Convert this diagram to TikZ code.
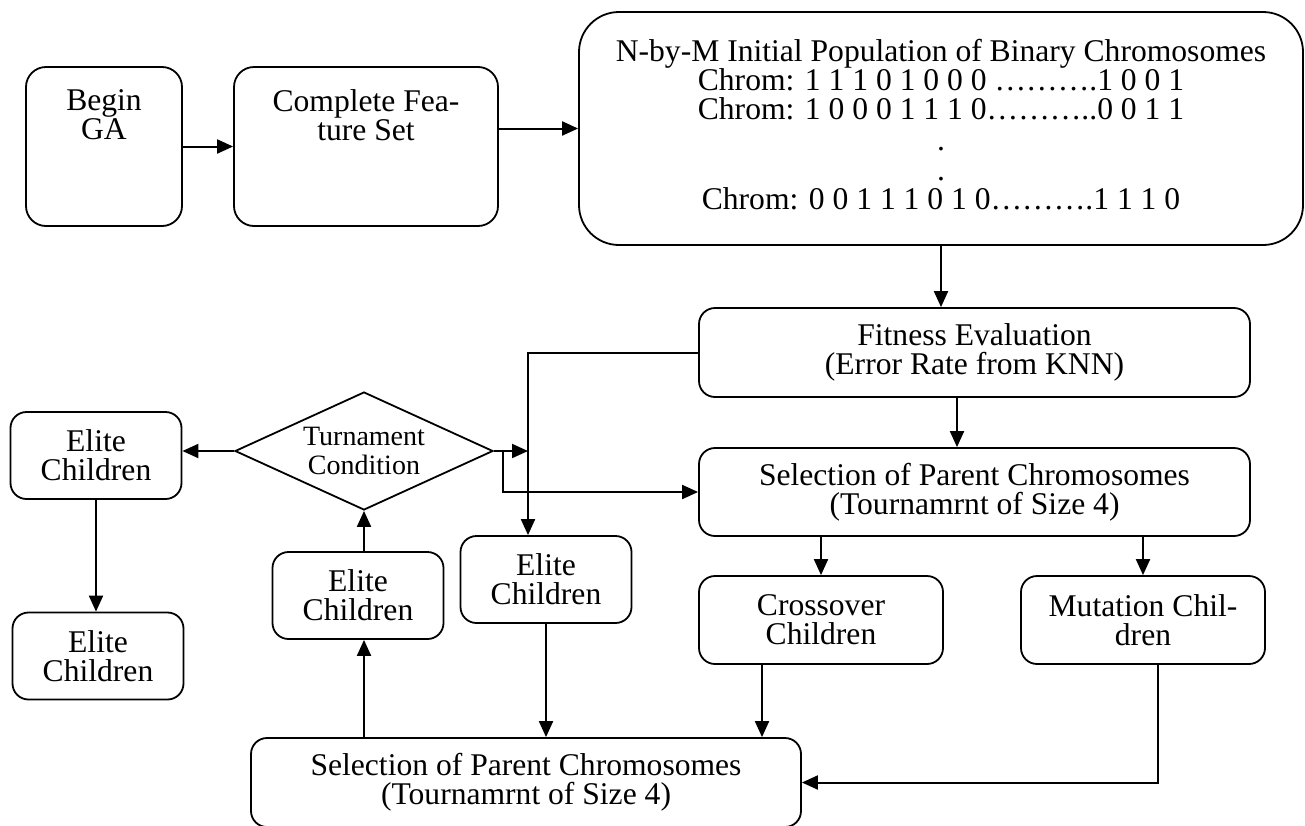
\documentclass[tikz,border=0pt]{standalone}
\usepackage{fontspec}
\setmainfont{Liberation Serif}
\usetikzlibrary{arrows.meta,shapes.geometric}
\tikzset{
    box/.style={draw=black, line width=0.9pt, rounded corners=8pt, inner sep=0pt, align=center},
    txt/.style={inner sep=0pt, align=center},
    cond/.style={shape=diamond, draw=black, line width=0.9pt, aspect=2.2, inner sep=0pt, align=center, font=\fontsize{14}{14.5}\selectfont},
    arr/.style={draw=black, line width=1pt, -{Triangle[length=8pt,width=7pt]}}
}
\begin{document}
\begin{tikzpicture}[x=0.5pt, y=-0.5pt, font=\fontsize{15.8}{14.5}\selectfont]
    \useasboundingbox (0,0) rectangle (1305,825);

    \node[box, rounded corners=10pt, minimum width=78pt, minimum height=79.5pt] (begin) at (104,146.5) {};
    \node[box, rounded corners=10pt, minimum width=132pt, minimum height=79.5pt] (feat) at (366,146.5) {};
    \node[txt, anchor=north] (begintxt) at ([yshift=-11.5pt]begin.north) {Begin\\GA};
    \node[txt, anchor=north] (feattxt) at ([yshift=-11.5pt]feat.north) {Complete Fea-\\ture Set};
    \node[box, rounded corners=20pt, minimum width=362pt, minimum height=116.5pt] (pop) at (941,128.5) {};
    \node[txt] (poptxt) at ([yshift=2pt]pop.center)
        {N-by-M Initial Population of Binary Chromosomes\\
         Chrom: 1 1 1 0 1 0 0 0 ……….1 0 0 1\\
         Chrom: 1 0 0 0 1 1 1 0………..0 0 1 1\\[1pt]
         .\\[0.5pt]
         .\\
         Chrom: 0 0 1 1 1 0 1 0……….1 1 1 0};

    \node[box, minimum width=275.5pt, minimum height=44.5pt] (fit) at (974.5,352.5) {Fitness Evaluation\\(Error Rate from KNN)};
    \node[box, minimum width=275.5pt, minimum height=44pt] (sel) at (974.5,492) {Selection of Parent Chromosomes\\(Tournamrnt of Size 4)};
    \node[box, minimum width=122pt, minimum height=44pt] (cross) at (821,620) {Crossover\\Children};
    \node[box, minimum width=122pt, minimum height=44pt] (mut) at (1143,620) {Mutation Chil-\\dren};
    \node[box, minimum width=275pt, minimum height=44.5pt] (selb) at (526,782.5) {Selection of Parent Chromosomes\\(Tournamrnt of Size 4)};
    \node[cond, minimum width=129pt, minimum height=59pt] (cond) at (364,451) {Turnament\\Condition};

    \foreach \n/\x/\y in {elitea/96/455.5, eliteb/98/656, elitec/358/595.5, elited/546/579.5}
        \node[box, minimum width=85.5pt, minimum height=43.5pt] (\n) at (\x,\y) {Elite\\Children};

    \coordinate (jn) at (528,351);
    \coordinate (br) at (503,451);

    \draw[arr] (begin) -- (feat);
    \draw[arr] (feat.east |- pop.west) -- (pop.west);
    \draw[arr] (pop.south) -- (pop.south |- fit.north);
    \draw[arr] ([xshift=-8.75pt]fit.south) -- ([xshift=-8.75pt]sel.north);
    \draw[arr] (cross.north |- sel.south) -- (cross.north);
    \draw[arr] (mut.north |- sel.south) -- (mut.north);
    \draw[arr] ([xshift=-29.5pt]cross.south) -- ([xshift=-29.5pt]cross.south |- selb.north);
    \draw[arr] ([xshift=7.5pt]mut.south) |- (selb.east);
    \draw[arr] (elited.south) -- (elited.south |- selb.north);
    \draw[arr] (cond.south |- selb.north) -- (cond.south |- elitec.south);
    \draw[arr] (cond.south |- elitec.north) -- (cond.south);
    \draw[arr] (cond.west) -- (cond.west -| elitea.east);
    \draw[arr] (elitea.south) -- (elitea.south |- eliteb.north);
    \draw[arr] (fit.west) -| (jn |- elited.north);
    \draw[arr] (cond.east) -- (cond.east -| jn);
    \draw[arr] (cond.east -| br) |- (sel.west);

\end{tikzpicture}
\end{document}
